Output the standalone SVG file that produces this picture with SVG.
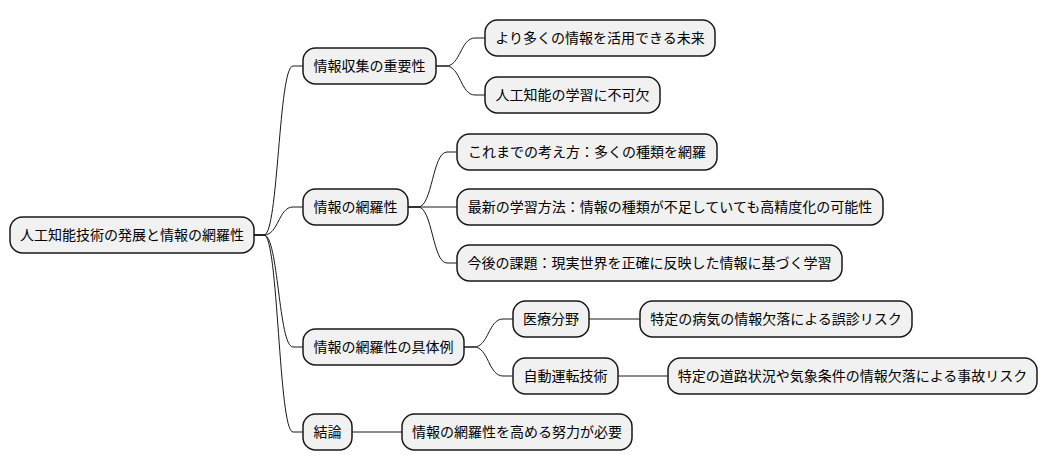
<svg xmlns="http://www.w3.org/2000/svg" width="1048" height="471" viewBox="0 0 1048 471">
<style>
.box{fill:#F1F1F1;stroke:#181818;stroke-width:1.5}
.t{font-family:"Noto Sans CJK JP","Noto Sans",sans-serif;font-size:14px;fill:#000;text-anchor:middle}
.c{fill:none;stroke:#181818;stroke-width:1}
</style>
<rect width="1048" height="471" fill="#FFFFFF"/>
<g id="connectors">
<path class="c" d="M254,235 H264 C278.5,235 278.5,66 293,66 H303"/>
<path class="c" d="M254,235 H264 C278.5,235 278.5,207 293,207 H303"/>
<path class="c" d="M254,235 H264 C278.5,235 278.5,347 293,347 H303"/>
<path class="c" d="M254,235 H264 C278.5,235 278.5,432 293,432 H303"/>
<path class="c" d="M436,66 H446 C460.5,66 460.5,38 475,38 H485"/>
<path class="c" d="M436,66 H446 C460.5,66 460.5,95 475,95 H485"/>
<path class="c" d="M408,207 H418 C432.5,207 432.5,152 447,152 H457"/>
<path class="c" d="M408,207 H457"/>
<path class="c" d="M408,207 H418 C432.5,207 432.5,263 447,263 H457"/>
<path class="c" d="M464,347 H474 C488.5,347 488.5,319 503,319 H513"/>
<path class="c" d="M464,347 H474 C488.5,347 488.5,376 503,376 H513"/>
<path class="c" d="M589,319 H640"/>
<path class="c" d="M618,376 H668"/>
<path class="c" d="M352,432 H402"/>
</g>
<g id="root"><rect class="box" x="10" y="217" width="244" height="36" rx="12.5"/><text class="t" x="132" y="240">人工知能技術の発展と情報の網羅性</text></g>
<g id="n1"><rect class="box" x="303" y="48" width="133" height="36" rx="12.5"/><text class="t" x="369.5" y="71">情報収集の重要性</text></g>
<g id="n1a"><rect class="box" x="485" y="20" width="230" height="36" rx="12.5"/><text class="t" x="600" y="43">より多くの情報を活用できる未来</text></g>
<g id="n1b"><rect class="box" x="485" y="77" width="175" height="36" rx="12.5"/><text class="t" x="572.5" y="100">人工知能の学習に不可欠</text></g>
<g id="n2"><rect class="box" x="303" y="189" width="105" height="36" rx="12.5"/><text class="t" x="355.5" y="212">情報の網羅性</text></g>
<g id="n2a"><rect class="box" x="457" y="134" width="260" height="36" rx="12.5"/><text class="t" x="587" y="157">これまでの考え方：多くの種類を網羅</text></g>
<g id="n2b"><rect class="box" x="457" y="189" width="426" height="36" rx="12.5"/><text class="t" x="670" y="212">最新の学習方法：情報の種類が不足していても高精度化の可能性</text></g>
<g id="n2c"><rect class="box" x="457" y="245" width="385" height="36" rx="12.5"/><text class="t" x="649.5" y="268">今後の課題：現実世界を正確に反映した情報に基づく学習</text></g>
<g id="n3"><rect class="box" x="303" y="329" width="161" height="36" rx="12.5"/><text class="t" x="383.5" y="352">情報の網羅性の具体例</text></g>
<g id="n3a"><rect class="box" x="513" y="301" width="76" height="36" rx="12.5"/><text class="t" x="551" y="324">医療分野</text></g>
<g id="n3a1"><rect class="box" x="640" y="301" width="272" height="36" rx="12.5"/><text class="t" x="776" y="324">特定の病気の情報欠落による誤診リスク</text></g>
<g id="n3b"><rect class="box" x="513" y="358" width="105" height="36" rx="12.5"/><text class="t" x="565.5" y="381">自動運転技術</text></g>
<g id="n3b1"><rect class="box" x="668" y="358" width="369" height="36" rx="12.5"/><text class="t" x="852.5" y="381">特定の道路状況や気象条件の情報欠落による事故リスク</text></g>
<g id="n4"><rect class="box" x="303" y="414" width="49" height="36" rx="12.5"/><text class="t" x="327.5" y="437">結論</text></g>
<g id="n4a"><rect class="box" x="402" y="414" width="230" height="36" rx="12.5"/><text class="t" x="517" y="437">情報の網羅性を高める努力が必要</text></g>
</svg>
